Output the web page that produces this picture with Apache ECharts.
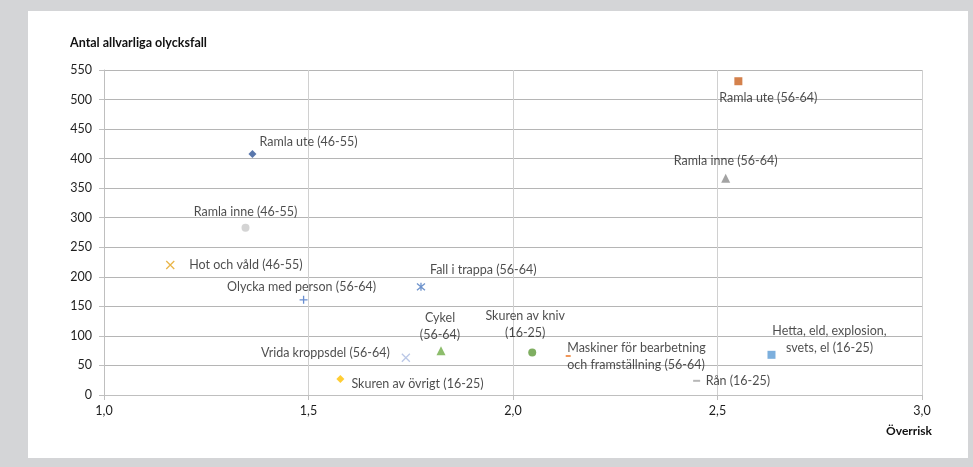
<!DOCTYPE html>
<html>
<head>
<meta charset="utf-8">
<script src="https://cdn.jsdelivr.net/npm/echarts@6/dist/echarts.min.js"></script>
<style>
html,body{margin:0;padding:0;background:#d4d5d7;}
#c{width:973px;height:467px;}
</style>
</head>
<body>
<div id="c"></div>
<script>
// ---- data ----
var labels = [
  "Ramla ute (46-55)",
  "Ramla inne (46-55)",
  "Hot och våld (46-55)",
  "Olycka med person (56-64)",
  "Fall i trappa (56-64)",
  "Cykel\n(56-64)",
  "Vrida kroppsdel (56-64)",
  "Skuren av övrigt (16-25)",
  "Skuren av kniv\n(16-25)",
  "Maskiner för bearbetning\noch framställning (56-64)",
  "Rån (16-25)",
  "Hetta, eld, explosion,\nsvets, el (16-25)",
  "Ramla ute (56-64)",
  "Ramla inne (56-64)"
];
var overrisk = [1.363, 1.346, 1.162, 1.488, 1.775, 1.824, 1.738, 1.578, 2.047, 2.135, 2.449, 2.632, 2.551, 2.520];
var antal    = [408, 283, 220, 161, 183, 75, 63, 27, 72, 66, 24, 68, 531, 367];
var xTicks = [1.0, 1.5, 2.0, 2.5, 3.0];
var yTicks = [0, 50, 100, 150, 200, 250, 300, 350, 400, 450, 500, 550];

// ---- styles (marker + label placement) ----
var X_PATH = 'path://M0,0L10,10M10,0L0,10';
var PLUS_PATH = 'path://M5,0L5,10M0,5L10,5';
var STAR_PATH = 'path://M0,0L10,10M10,0L0,10M5,-1L5,11';
var styles = [
  {sym:'diamond', size:8, color:'#2f5597', off:[7,-12], align:'left'},
  {sym:'circle', size:8, color:'#c9c9c9', off:[0,-16], align:'center'},
  {sym:X_PATH, size:8, color:'#e3a21a', line:true, off:[19,0], align:'left'},
  {sym:PLUS_PATH, size:8, color:'#4472c4', line:true, off:[-2,-13], align:'center'},
  {sym:STAR_PATH, size:8, color:'#4a78bf', line:true, off:[9,-17], align:'left'},
  {sym:'triangle', size:9, color:'#70ad47', off:[-1,-24], align:'center'},
  {sym:X_PATH, size:8, color:'#a9b9e0', line:true, off:[-16,-5], align:'right'},
  {sym:'diamond', size:8, color:'#ffc000', off:[11,5], align:'left'},
  {sym:'circle', size:8, color:'#5f9a3a', off:[-7,-28], align:'center'},
  {sym:'rect', size:[5,2], color:'#ed7d31', off:[-1,0], align:'left'},
  {sym:'rect', size:[7,2], color:'#a5a5a5', off:[9,0], align:'left'},
  {sym:'rect', size:8, color:'#5b9bd5', off:[58,-15], align:'center'},
  {sym:'rect', size:8, color:'#c9611f', off:[30,17], align:'center'},
  {sym:'triangle', size:9, color:'#8c8c8c', off:[0,-17], align:'center'}
];

var FONT = 'Lato, "Open Sans", sans-serif';
var series = labels.map(function(name, i){
  var s = styles[i];
  var itemStyle = s.line ?
    {color:'none', borderColor:s.color, borderWidth:1.3} :
    {color:s.color};
  return {
    type:'scatter',
    name:name,
    symbol:s.sym,
    symbolSize:s.size,
    itemStyle:itemStyle,
    data:[[overrisk[i], antal[i]]],
    label:{
      show:true,
      formatter:name,
      position:'inside',
      offset:s.off,
      align:s.align,
      verticalAlign:'middle',
      color:'#1e1e1e',
      fontFamily:FONT,
      fontSize:12.5,
      lineHeight:17
    },
    emphasis:{disabled:true},
    z:3
  };
});

var chart = echarts.init(document.getElementById('c'), null, {renderer:'canvas'});
chart.setOption({
  animation:false,
  backgroundColor:'#d4d5d7',
  graphic:[
    {type:'rect', z:-10, shape:{x:28, y:11, width:940, height:447}, style:{fill:'#ffffff'}},
    {type:'text', left:70, top:36, style:{text:'Antal allvarliga olycksfall', font:'bold 12.5px ' + FONT, fill:'#111'}},
    {type:'text', right:41, top:425, style:{text:'Överrisk', font:'bold 12px ' + FONT, fill:'#111'}}
  ],
  grid:{left:104, right:51, top:70, bottom:72, containLabel:false},
  xAxis:{
    type:'value',
    min:xTicks[0], max:xTicks[xTicks.length-1], interval:0.5,
    axisLine:{show:true, onZero:false, lineStyle:{color:'#bfbfbf', width:1}},
    axisTick:{show:true, length:5, lineStyle:{color:'#bfbfbf'}},
    splitLine:{show:true, lineStyle:{color:'#d0d0d0', width:1}},
    axisLabel:{
      color:'#1e1e1e', fontFamily:FONT, fontSize:12.5, margin:9,
      formatter:function(v){ return v.toFixed(1).replace('.', ','); }
    }
  },
  yAxis:{
    type:'value',
    min:yTicks[0], max:yTicks[yTicks.length-1], interval:50,
    axisLine:{show:true, lineStyle:{color:'#bfbfbf', width:1}},
    axisTick:{show:true, length:5, lineStyle:{color:'#bfbfbf'}},
    splitLine:{show:true, lineStyle:{color:'#b5b5b5', width:1}},
    axisLabel:{color:'#1e1e1e', fontFamily:FONT, fontSize:12.5, margin:12}
  },
  series:series
});
</script>
</body>
</html>
